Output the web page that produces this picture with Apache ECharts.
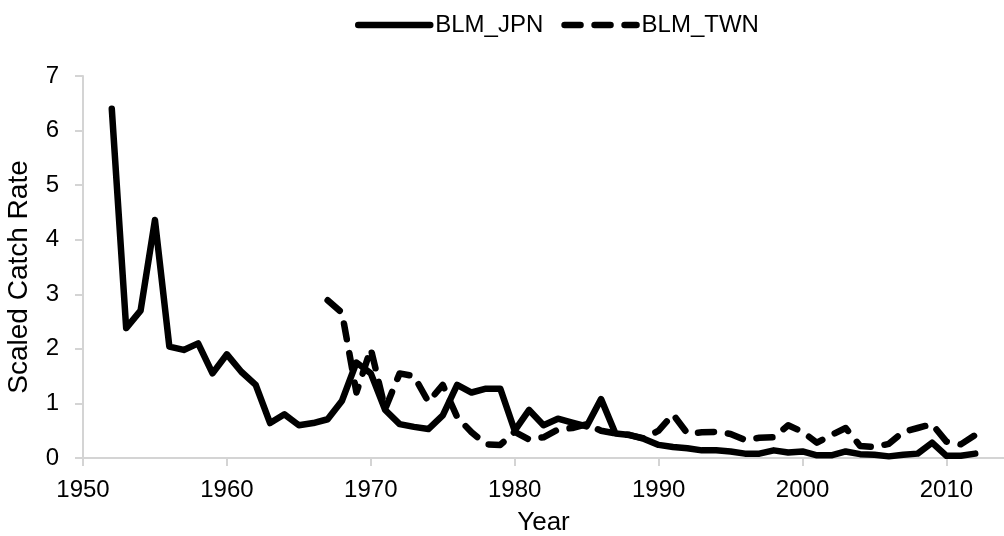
<!DOCTYPE html>
<html>
<head>
<meta charset="utf-8">
<script src="https://cdn.jsdelivr.net/npm/echarts@6/dist/echarts.min.js"></script>
<style>
html,body{margin:0;padding:0;background:#fff;}
#chart{width:1004px;height:536px;}
</style>
</head>
<body>
<div id="chart"></div>
<script>
var jpnYears = [1952,1953,1954,1955,1956,1957,1958,1959,1960,1961,1962,1963,1964,1965,1966,1967,1968,1969,1970,1971,1972,1973,1974,1975,1976,1977,1978,1979,1980,1981,1982,1983,1984,1985,1986,1987,1988,1989,1990,1991,1992,1993,1994,1995,1996,1997,1998,1999,2000,2001,2002,2003,2004,2005,2006,2007,2008,2009,2010,2011,2012];
var jpnValues = [6.4,2.38,2.7,4.36,2.04,1.98,2.1,1.55,1.9,1.58,1.34,0.64,0.8,0.6,0.64,0.71,1.05,1.75,1.55,0.88,0.62,0.57,0.53,0.78,1.34,1.2,1.27,1.27,0.5,0.88,0.6,0.72,0.65,0.58,1.08,0.45,0.42,0.35,0.24,0.2,0.18,0.14,0.14,0.12,0.08,0.08,0.14,0.1,0.12,0.05,0.05,0.12,0.07,0.06,0.03,0.06,0.08,0.28,0.04,0.04,0.08];
var twnYears = [1967,1968,1969,1970,1971,1972,1973,1974,1975,1976,1977,1978,1979,1980,1981,1982,1983,1984,1985,1986,1987,1988,1989,1990,1991,1992,1993,1994,1995,1996,1997,1998,1999,2000,2001,2002,2003,2004,2005,2006,2007,2008,2009,2010,2011,2012];
var twnValues = [2.89,2.66,1.2,2.0,0.9,1.55,1.5,1.03,1.34,0.75,0.47,0.25,0.24,0.48,0.34,0.38,0.52,0.55,0.62,0.5,0.45,0.42,0.36,0.5,0.8,0.45,0.47,0.48,0.44,0.33,0.37,0.38,0.6,0.48,0.28,0.42,0.55,0.22,0.2,0.26,0.48,0.55,0.62,0.3,0.25,0.42];
var xTicks = [1950,1960,1970,1980,1990,2000,2010];
var seriesNames = ['BLM_JPN','BLM_TWN'];

function pairs(xs, ys){ return xs.map(function(x,i){ return [x, ys[i]]; }); }

var FONT = '"Liberation Sans", Arial, sans-serif';
var LW = 6.5;
var DASH = [16,14];
var chart = echarts.init(document.getElementById('chart'), null, {renderer:'canvas'});
chart.setOption({
  animation:false,
  backgroundColor:'#fff',
  textStyle:{fontFamily:FONT},
  legend:{
    left:350, top:8,
    itemWidth:72, itemHeight:14, itemGap:18,
    textStyle:{fontSize:24, color:'#000', fontFamily:FONT},
    itemStyle:{opacity:0},
    lineStyle:{width:LW, cap:'round'},
    data:seriesNames
  },
  grid:{left:83, right:0, top:76, bottom:78, containLabel:false, outerBoundsMode:'none'},
  xAxis:{
    type:'value', min:1950, max:2014, interval:10,
    name:'Year', nameLocation:'middle', nameGap:52,
    nameTextStyle:{fontSize:26, color:'#000', fontFamily:FONT},
    axisLine:{show:true, onZero:false, lineStyle:{color:'#d4d4d4', width:2}},
    axisTick:{show:true, length:8, lineStyle:{color:'#d4d4d4', width:2}, customValues:xTicks},
    axisLabel:{fontSize:24, color:'#000', margin:20, customValues:xTicks, fontFamily:FONT,
      formatter:function(v){ return (v % 10 === 0) ? String(v) : ''; }},
    splitLine:{show:false}
  },
  yAxis:{
    type:'value', min:0, max:7, interval:1,
    name:'Scaled Catch Rate', nameLocation:'middle', nameGap:50, nameRotate:90,
    nameTextStyle:{fontSize:28, color:'#000', fontFamily:FONT, padding:[0,20,0,0]},
    axisLine:{show:true, lineStyle:{color:'#d4d4d4', width:2}},
    axisTick:{show:true, length:8, lineStyle:{color:'#d4d4d4', width:2}},
    axisLabel:{fontSize:24, color:'#000', margin:24, fontFamily:FONT},
    splitLine:{show:false}
  },
  series:[
    {name:seriesNames[0], type:'line', data:pairs(jpnYears,jpnValues), showSymbol:false, symbol:'none',
     lineStyle:{color:'#000', width:LW, cap:'round', join:'round'}, itemStyle:{color:'#000'}, z:3},
    {name:seriesNames[1], type:'line', data:pairs(twnYears,twnValues), showSymbol:false, symbol:'none',
     lineStyle:{color:'#000', width:LW, type:DASH, cap:'round', join:'round'}, itemStyle:{color:'#000'}, z:2}
  ]
});
</script>
</body>
</html>
